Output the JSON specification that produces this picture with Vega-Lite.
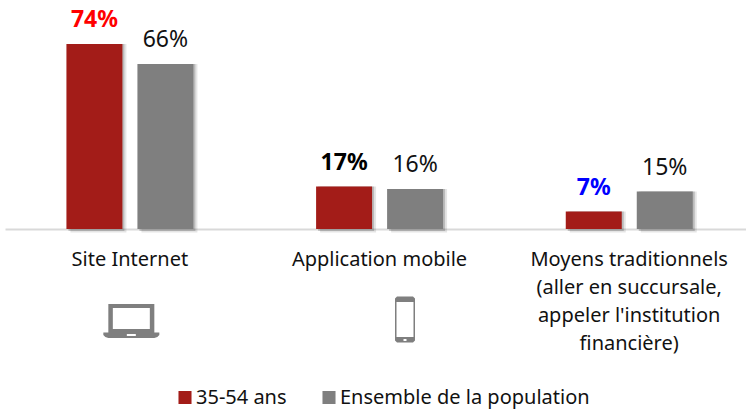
{
"$schema":"https://vega.github.io/schema/vega-lite/v6.json",
"width":746,"height":229,
"autosize":"none",
"padding":{"left":0,"top":0,"right":0,"bottom":181},
"background":"white",
"config":{"view":{"stroke":null},"font":"Noto Sans"},
"datasets":{"rows":[
{"categorie":"Site Internet","groupe":"35-54 ans","valeur":74,"texte":"74%","accent":"haut"},
{"categorie":"Site Internet","groupe":"Ensemble de la population","valeur":66,"texte":"66%","accent":"normal"},
{"categorie":"Application mobile","groupe":"35-54 ans","valeur":17,"texte":"17%","accent":"moyen"},
{"categorie":"Application mobile","groupe":"Ensemble de la population","valeur":16,"texte":"16%","accent":"normal"},
{"categorie":"Moyens traditionnels|(aller en succursale,|appeler l'institution|financière)","groupe":"35-54 ans","valeur":7,"texte":"7%","accent":"bas"},
{"categorie":"Moyens traditionnels|(aller en succursale,|appeler l'institution|financière)","groupe":"Ensemble de la population","valeur":15,"texte":"15%","accent":"normal"}
]},
"data":{"name":"rows"},
"encoding":{
"x":{"field":"categorie","type":"nominal","sort":null,
"scale":{"range":[5,754],"paddingInner":0.432,"paddingOuter":0.216},
"axis":{"title":null,"ticks":false,"labelAngle":0,"labelFontSize":20,"labelColor":"#111111","labelPadding":20.5,"labelLineHeight":28,"labelLimit":0,"domainColor":"#d9d9d9","domainWidth":2,"labelExpr":"split(datum.label,'|')"}},
"y":{"field":"valeur","type":"quantitative","scale":{"domain":[0,91.6]},"axis":null}
},
"layer":[
{"mark":{"type":"bar","width":56,"color":"#000000","opacity":0.10},
 "encoding":{"xOffset":{"field":"groupe","sort":null,"scale":{"domain":["35-54 ans","Ensemble de la population"],"range":[4,146],"paddingInner":0,"paddingOuter":0}},
  "y2":{"datum":-1.4}}},
{"mark":{"type":"bar","width":56,"color":"#000000","opacity":0.18},
 "encoding":{"xOffset":{"field":"groupe","sort":null,"scale":{"domain":["35-54 ans","Ensemble de la population"],"range":[2,144],"paddingInner":0,"paddingOuter":0}},
  "y2":{"datum":-0.8}}},
{"mark":{"type":"bar","width":56},
 "encoding":{
  "xOffset":{"field":"groupe","sort":null,"scale":{"domain":["35-54 ans","Ensemble de la population"],"range":[0,142],"paddingInner":0,"paddingOuter":0}},
  "color":{"field":"groupe","type":"nominal","sort":null,
   "scale":{"domain":["35-54 ans","Ensemble de la population"],"range":["#a31c18","#7f7f7f"]},
   "legend":{"title":null,"orient":"none","legendX":175,"legendY":387.5,"direction":"horizontal","symbolType":"square","symbolSize":170,"symbolStrokeWidth":0,"symbolOpacity":1,"labelFontSize":20,"labelColor":"#111111","columnPadding":32,"labelOffset":1,"labelLimit":0}}}},
{"transform":[{"filter":"datum.accent === 'normal'"}],
 "mark":{"type":"text","baseline":"alphabetic","dy":-17,"fontSize":23,"color":"#111111"},
 "encoding":{
  "xOffset":{"field":"groupe","sort":null,"scale":{"domain":["35-54 ans","Ensemble de la population"],"range":[35.5,106.5],"paddingInner":0,"paddingOuter":0}},
  "text":{"field":"texte"}}},
{"transform":[{"filter":"datum.accent !== 'normal'"}],
 "mark":{"type":"text","baseline":"alphabetic","dy":-17,"fontSize":23,"fontWeight":"bold"},
 "encoding":{
  "xOffset":{"field":"groupe","sort":null,"scale":{"domain":["35-54 ans","Ensemble de la population"],"range":[35.5,106.5],"paddingInner":0,"paddingOuter":0}},
  "text":{"field":"texte"},
  "color":{"field":"accent","type":"nominal","legend":null,
   "scale":{"domain":["haut","moyen","bas"],"range":["#ff0000","#000000","#0000ff"]}}}},
{"data":{"values":[{"categorie":"Site Internet","v":-36.8}]},
 "mark":{"type":"point","filled":true,"fill":"#7f7f7f","stroke":null,"opacity":1,"size":4,"xOffset":1.5,
  "shape":"M-23,-17 L23,-17 L23,12 L-23,12 Z M-18.5,-13 L-18.5,8 L18.5,8 L18.5,-13 Z M-28,11.5 L28,11.5 L28,14 L26,16 L23,17 L-23,17 L-26,16 L-28,14 Z M-4.5,13 L-4.5,15 L4.5,15 L4.5,13 Z"},
 "encoding":{"y":{"field":"v","type":"quantitative"}}},
{"data":{"values":[{"categorie":"Application mobile","v":-36.2}]},
 "mark":{"type":"point","filled":true,"fill":"#7f7f7f","stroke":null,"opacity":1,"size":4,"xOffset":25.5,
  "shape":"M-8,-23 L8,-23 L10,-21 L10,21 L8,23 L-8,23 L-10,21 L-10,-21 Z M-8.5,-17.5 L-8.5,17.5 L8.5,17.5 L8.5,-17.5 Z M-2.5,-20.5 L2.5,-20.5 L2.5,-19.5 L-2.5,-19.5 Z M-1.5,19.5 L-1.5,21.5 L1.5,21.5 L1.5,19.5 Z"},
 "encoding":{"y":{"field":"v","type":"quantitative"}}}
],
"resolve":{"scale":{"color":"independent","xOffset":"independent"}}
}
